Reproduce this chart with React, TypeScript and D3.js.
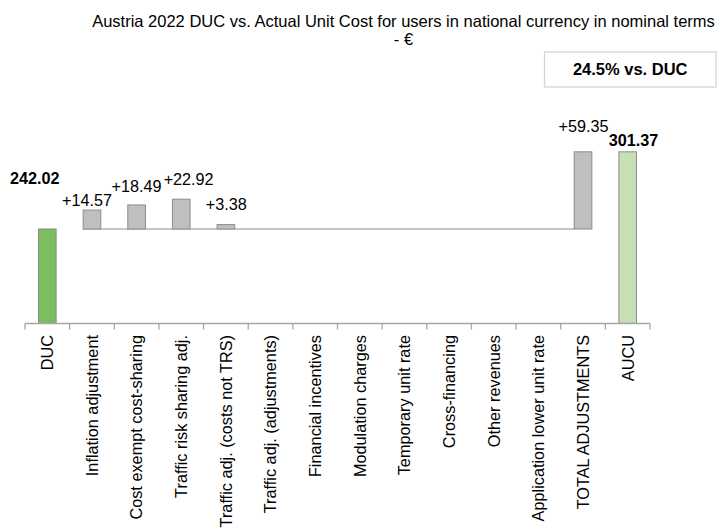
import React from "react";
import * as d3 from "d3";

const categories: string[] = [
  "DUC",
  "Inflation adjustment",
  "Cost exempt cost-sharing",
  "Traffic risk sharing adj.",
  "Traffic adj. (costs not TRS)",
  "Traffic adj. (adjustments)",
  "Financial incentives",
  "Modulation charges",
  "Temporary unit rate",
  "Cross-financing",
  "Other revenues",
  "Application lower unit rate",
  "TOTAL ADJUSTMENTS",
  "AUCU",
];

// value of each step (DUC and AUCU are totals, the rest are adjustments)
const values: number[] = [242.02, 14.57, 18.49, 22.92, 3.38, 0, 0, 0, 0, 0, 0, 0, 59.35, 301.37];
const kinds: string[] = ["total", "adj", "adj", "adj", "adj", "adj", "adj", "adj", "adj", "adj", "adj", "adj", "adj", "final"];
const labels: string[] = ["242.02", "+14.57", "+18.49", "+22.92", "+3.38", "", "", "", "", "", "", "", "+59.35", "301.37"];

const titleLines: string[] = [
  "Austria 2022 DUC vs. Actual Unit Cost for users in national currency in nominal terms",
  "- €",
];
const boxText = "24.5% vs. DUC";

// label layout offsets (dx, gap above bar top)
const labelDx: number[] = [-12.5, -5, 0, 7.4, 0.4, 0, 0, 0, 0, 0, 0, 0, 0.5, 5.8];
const labelGap: number[] = [45, 4, 13.4, 14.3, 14.3, 0, 0, 0, 0, 0, 0, 0, 20, 6];

const W = 720;
const H = 529;
const FONT = "'Liberation Sans', Arial, sans-serif";

export default function App() {
  const x = d3.scaleBand<string>().domain(categories).range([25, 650]).padding(0);
  const y = d3.scaleLinear().domain([169.5, 330]).range([323.3, 114.6]);
  const bw = x.bandwidth();
  const barW = bw * 0.395;
  const base = values[0];

  const bars = categories.map((c, i) => {
    const v = values[i];
    const kind = kinds[i];
    let y0: number, y1: number;
    if (kind === "adj") {
      y0 = base;
      y1 = base + v;
    } else {
      y0 = 169.5;
      y1 = v;
    }
    const cx = (x(c) as number) + bw / 2;
    return { c, i, v, kind, cx, top: y(Math.max(y0, y1)), bottom: y(Math.min(y0, y1)) };
  });

  const fills: Record<string, string> = { total: "#7cbd5f", adj: "#bfbfbf", final: "#c6e0b4" };

  const firstAdj = bars[1];
  const lastAdj = bars[12];

  return (
    <svg
      width={W}
      height={H}
      style={{ position: "absolute", left: 0, top: 0, background: "#fff" }}
      fontFamily={FONT}
    >
      {/* title */}
      <text x={403.5} y={27.3} textAnchor="middle" fontSize={16.5} fill="#000">
        {titleLines[0]}
      </text>
      <text x={403.5} y={45} textAnchor="middle" fontSize={16.5} fill="#000">
        {titleLines[1]}
      </text>

      {/* box */}
      <rect x={544.5} y={52} width={171.5} height={35} fill="#fff" stroke="#d4d4d4" strokeWidth={1.3} />
      <text x={630.2} y={75} textAnchor="middle" fontSize={16.5} fontWeight="bold" fill="#000">
        {boxText}
      </text>

      {/* connector line at DUC level */}
      <line
        x1={firstAdj.cx - barW / 2}
        x2={lastAdj.cx - barW / 2}
        y1={y(base)}
        y2={y(base)}
        stroke="#b3b3b3"
        strokeWidth={1.3}
      />

      {/* bars */}
      {bars
        .filter((b) => b.bottom - b.top > 0.01)
        .map((b) => (
          <rect
            key={b.c}
            x={b.cx - barW / 2}
            y={b.top}
            width={barW}
            height={b.bottom - b.top}
            fill={fills[b.kind]}
            stroke="#8c8c8c"
            strokeWidth={1}
          />
        ))}

      {/* value labels */}
      {bars.map((b) =>
        labels[b.i] ? (
          <text
            key={"l" + b.c}
            x={b.cx + labelDx[b.i]}
            y={b.top - labelGap[b.i]}
            textAnchor="middle"
            fontSize={16.2}
            fontWeight={b.kind === "adj" ? "normal" : "bold"}
            fill="#000"
          >
            {labels[b.i]}
          </text>
        ) : null
      )}

      {/* x axis */}
      <line x1={25} x2={650} y1={323.5} y2={323.5} stroke="#a6a6a6" strokeWidth={1.3} />
      {d3.range(categories.length + 1).map((k) => {
        const tx = 25 + k * bw;
        return <line key={"t" + k} x1={tx} x2={tx} y1={323.5} y2={329.5} stroke="#a6a6a6" strokeWidth={1.3} />;
      })}
      {categories.map((c) => {
        const cx = (x(c) as number) + bw / 2;
        return (
          <text
            key={"c" + c}
            transform={`translate(${cx},335) rotate(-90)`}
            textAnchor="end"
            dy="0.36em"
            fontSize={16.3}
            fill="#000"
          >
            {c}
          </text>
        );
      })}
    </svg>
  );
}
